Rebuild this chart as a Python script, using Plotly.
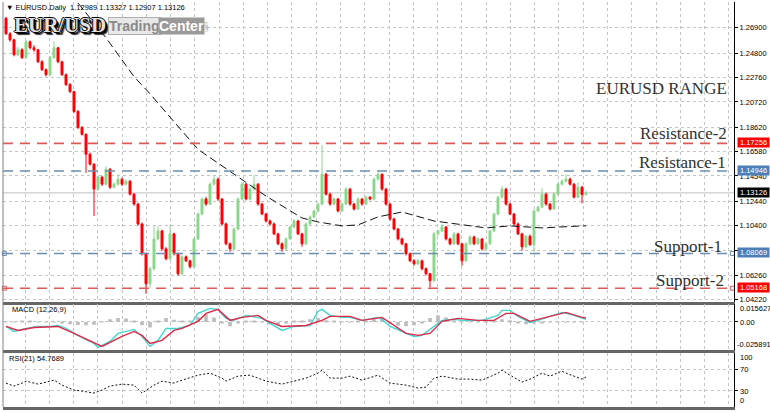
import plotly.graph_objects as go

# ---------------- data ----------------
open_ = [1.2770,1.2640,1.2590,1.2466,1.2507,1.2441,1.2574,1.2524,1.2507,1.2407,
         1.2341,1.2299,1.2441,1.2524,1.2407,1.2299,1.2216,1.2158,1.1992,1.1859,
         1.1801,1.1635,1.1552,1.1344,1.1444,1.1385,1.1510,1.1360,1.1385,1.1427,
         1.1385,1.1410,1.1302,1.1219,1.1053,1.0804,1.0554,1.0679,1.0928,1.0995,
         1.0845,1.0762,1.0970,1.0804,1.0637,1.0779,1.0745,1.0696,1.0928,1.1136,
         1.1261,1.1219,1.1385,1.1427,1.1261,1.1053,1.0887,1.0845,1.1011,1.1261,
         1.1385,1.1261,1.1344,1.1385,1.1219,1.1136,1.1078,1.1053,1.0970,1.0887,
         1.0845,1.0928,1.1028,1.1078,1.0970,1.0887,1.1053,1.1111,1.1161,1.1219,
         1.1468,1.1302,1.1219,1.1261,1.1161,1.1219,1.1344,1.1219,1.1178,1.1261,
         1.1219,1.1277,1.1261,1.1427,1.1468,1.1344,1.1219,1.1095,1.1011,1.0928,
         1.0887,1.0804,1.0745,1.0720,1.0745,1.0679,1.0637,1.0579,1.0970,1.0995,
         1.1028,1.0928,1.0887,1.0970,1.0887,1.0745,1.0887,1.0945,1.0887,1.0928,
         1.0845,1.0887,1.0995,1.1136,1.1277,1.1344,1.1219,1.1136,1.1053,1.0970,
         1.0862,1.0950,1.0880,1.1161,1.1194,1.1302,1.1219,1.1178,1.1302,1.1385,
         1.1410,1.1427,1.1385,1.1277,1.1360,1.12989]
high_ = [1.2782,1.2655,1.2600,1.2530,1.2520,1.2590,1.2585,1.2545,1.2515,1.2420,
         1.2352,1.2455,1.2578,1.2530,1.2415,1.2310,1.2230,1.2165,1.2005,1.1870,
         1.1810,1.1650,1.1560,1.1460,1.1455,1.1535,1.1520,1.1400,1.1468,1.1440,
         1.1425,1.1420,1.1310,1.1230,1.1065,1.0815,1.0695,1.1037,1.1037,1.1005,
         1.0860,1.1037,1.0980,1.0815,1.0790,1.0790,1.0755,1.0940,1.1150,1.1275,
         1.1280,1.1400,1.1452,1.1440,1.1270,1.1065,1.0900,1.1025,1.1275,1.1402,
         1.1395,1.1358,1.1461,1.1395,1.1230,1.1145,1.1090,1.1065,1.0980,1.0900,
         1.0940,1.1040,1.1095,1.1088,1.0980,1.1065,1.1125,1.1175,1.1230,1.1714,
         1.1480,1.1315,1.1275,1.1270,1.1230,1.1360,1.1355,1.1230,1.1275,1.1270,
         1.1290,1.1285,1.1440,1.1485,1.1475,1.1355,1.1230,1.1105,1.1020,1.0940,
         1.0895,1.0815,1.0760,1.0760,1.0755,1.0690,1.0645,1.0985,1.1005,1.1053,
         1.1035,1.0940,1.0985,1.0980,1.0895,1.0900,1.0958,1.0955,1.0940,1.0935,
         1.0900,1.1005,1.1150,1.1290,1.1369,1.1355,1.1230,1.1145,1.1065,1.0980,
         1.0960,1.0965,1.1175,1.1205,1.1350,1.1315,1.1230,1.1315,1.1398,1.1425,
         1.1468,1.1440,1.1395,1.1402,1.1372,1.13327]
low_ = [1.2632,1.2575,1.2452,1.2455,1.2430,1.2435,1.2510,1.2490,1.2395,1.2330,
        1.2285,1.2290,1.2430,1.2395,1.2288,1.2205,1.2145,1.1980,1.1845,1.1790,
        1.1480,1.1540,1.1120,1.1330,1.1370,1.1375,1.1345,1.1350,1.1375,1.1370,
        1.1375,1.1290,1.1205,1.1040,1.0790,1.0471,1.0520,1.0665,1.0915,1.0830,
        1.0750,1.0750,1.0790,1.0621,1.0625,1.0735,1.0680,1.0685,1.0920,1.1125,
        1.1205,1.1210,1.1375,1.1245,1.1040,1.0875,1.0820,1.0835,1.1000,1.1250,
        1.1250,1.1250,1.1335,1.1205,1.1125,1.1065,1.1040,1.0960,1.0875,1.0820,
        1.0835,1.0920,1.1015,1.0960,1.0862,1.0878,1.1045,1.1100,1.1150,1.1210,
        1.1290,1.1205,1.1210,1.1150,1.1150,1.1210,1.1205,1.1165,1.1170,1.1205,
        1.1210,1.1250,1.1250,1.1415,1.1330,1.1205,1.1080,1.1000,1.0915,1.0875,
        1.0790,1.0735,1.0705,1.0710,1.0665,1.0625,1.0524,1.0570,1.0955,1.0985,
        1.0915,1.0875,1.0878,1.0875,1.0704,1.0735,1.0878,1.0875,1.0878,1.0830,
        1.0835,1.0878,1.0985,1.1125,1.1265,1.1205,1.1125,1.1040,1.0960,1.0830,
        1.0850,1.0870,1.0820,1.1150,1.1185,1.1205,1.1165,1.1170,1.1290,1.1375,
        1.1400,1.1375,1.1265,1.1268,1.1225,1.12907]
close_ = [1.2640,1.2590,1.2466,1.2507,1.2441,1.2574,1.2524,1.2507,1.2407,1.2341,
          1.2299,1.2441,1.2524,1.2407,1.2299,1.2216,1.2158,1.1992,1.1859,1.1801,
          1.1635,1.1552,1.1344,1.1444,1.1385,1.1510,1.1360,1.1385,1.1427,1.1385,
          1.1410,1.1302,1.1219,1.1053,1.0804,1.0554,1.0679,1.0928,1.0995,1.0845,
          1.0762,1.0970,1.0804,1.0637,1.0779,1.0745,1.0696,1.0928,1.1136,1.1261,
          1.1219,1.1385,1.1427,1.1261,1.1053,1.0887,1.0845,1.1011,1.1261,1.1385,
          1.1261,1.1344,1.1385,1.1219,1.1136,1.1078,1.1053,1.0970,1.0887,1.0845,
          1.0928,1.1028,1.1078,1.0970,1.0887,1.1053,1.1111,1.1161,1.1219,1.1468,
          1.1302,1.1219,1.1261,1.1161,1.1219,1.1344,1.1219,1.1178,1.1261,1.1219,
          1.1277,1.1261,1.1427,1.1468,1.1344,1.1219,1.1095,1.1011,1.0928,1.0887,
          1.0804,1.0745,1.0720,1.0745,1.0679,1.0637,1.0579,1.0970,1.0995,1.1028,
          1.0928,1.0887,1.0970,1.0887,1.0745,1.0887,1.0945,1.0887,1.0928,1.0845,
          1.0887,1.0995,1.1136,1.1277,1.1344,1.1219,1.1136,1.1053,1.0970,1.0862,
          1.0950,1.0880,1.1161,1.1194,1.1302,1.1219,1.1178,1.1302,1.1385,1.1410,
          1.1427,1.1385,1.1277,1.1360,1.1299,1.13126]
bars = list(range(len(close_)))

# dashed moving average (bar index, price)
ma_x = [18,25,32,36,40,48,57,65,74,78,84,88,93,99,107,115,120,126,134,144,145]
ma_y = [1.2898,1.2607,1.2283,1.2140,1.1984,1.1676,1.1469,1.1286,1.1103,1.1070,
        1.1037,1.1045,1.1112,1.1153,1.1078,1.1045,1.1020,1.1037,1.1020,1.1037,1.1037]

# MACD (12,26,9)
macd_x = [0,2,5,8,11,13,15,18,22,23,26,28,32,34,36,38,40,43,46,48,51,53,55,57,60,64,66,69,72,76,
          78,79,81,84,86,89,93,94,96,99,102,104,107,109,112,114,119,123,124,126,128,131,133,136,139,142,144,145]
macd_main = [-0.0041,-0.0086,-0.0059,-0.0041,-0.0041,-0.0032,-0.0059,-0.0122,-0.0194,-0.0230,
             -0.0176,-0.0104,-0.0068,-0.0131,-0.0221,-0.0167,-0.0059,-0.0059,-0.0032,0.0077,
             0.0122,0.0113,0.0032,0.0014,0.0059,0.0032,-0.0014,-0.0077,-0.0041,-0.0032,
             0.0095,0.0113,0.0059,0.0041,0.0041,0.0014,0.0041,0.0023,-0.0041,-0.0086,
             -0.0131,-0.0122,-0.0041,0.0014,0.0023,0.0014,0.0014,0.0059,0.0104,0.0104,
             0.0050,-0.0005,0.0014,0.0050,0.0086,0.0059,0.0032,0.0023]
signal_x = [0,3,7,13,17,24,29,32,34,36,39,42,44,48,50,53,56,59,63,65,69,75,79,81,86,89,94,97,100,103,
            106,109,113,118,122,125,127,131,134,140,144,145]
signal_y = [-0.0041,-0.0077,-0.0050,-0.0041,-0.0104,-0.0221,-0.0131,-0.0086,-0.0122,-0.0194,
            -0.0167,-0.0077,-0.0059,0.0005,0.0077,0.0113,0.0014,0.0041,0.0059,0.0014,
            -0.0041,-0.0032,0.0014,0.0050,0.0050,0.0014,0.0041,-0.0032,-0.0104,-0.0122,
            -0.0104,0.0005,0.0032,0.0014,0.0014,0.0077,0.0077,0.0005,0.0032,0.0086,
            0.0041,0.0036]
hist_x = list(range(0, 146, 2))
hist_y = [0.0003,-0.0005,0.0005,0.0004,0.0002,0.0001,0.0003,-0.0010,-0.0020,-0.0028,
          -0.0030,-0.0025,-0.0005,0.0025,0.0035,0.0030,0.0010,-0.0030,-0.0050,0.0010,
          0.0035,0.0020,0.0005,0.0010,0.0045,0.0070,0.0040,-0.0015,-0.0040,-0.0010,
          0.0010,0.0008,-0.0005,-0.0020,-0.0030,-0.0015,0.0005,0.0010,0.0025,0.0035,
          0.0015,0.0005,-0.0005,-0.0005,0.0005,0.0010,0.0040,0.0030,-0.0015,-0.0035,
          -0.0040,-0.0030,-0.0010,0.0035,0.0060,0.0040,0.0010,0.0003,0.0002,0.0002,
          0.0008,0.0015,0.0025,0.0015,-0.0015,-0.0020,-0.0010,-0.0008,-0.0003,0.0002,
          0.0001,-0.0004,-0.0005]

# RSI(21)
rsi_x = [0,2,4,5,8,10,12,14,17,19,22,24,26,29,32,34,37,39,42,44,48,51,54,55,58,61,65,69,72,75,
         78,79,81,84,86,89,93,96,100,103,105,107,109,113,116,119,123,124,126,129,131,134,136,139,140,142,144,145]
rsi_y = [43.3,37.6,43.3,47.1,41.4,45.2,49.0,39.5,30.0,28.1,24.3,30.0,37.6,41.4,39.5,24.3,39.5,47.1,43.3,49.0,
         58.6,62.4,52.9,47.1,56.7,58.6,47.1,41.4,47.1,52.9,62.4,68.1,52.9,52.9,56.7,49.0,58.6,43.3,39.5,33.8,
         35.7,52.9,56.7,51.0,51.0,49.0,62.4,68.1,58.6,45.2,51.0,62.4,56.7,66.2,62.4,56.7,51.0,54.77]

# price axis ticks
price_ticks = [1.26900,1.24800,1.22760,1.20720,1.18620,1.16580,1.14540,1.12440,1.10400,1.08300,1.06260,1.04220]
price_ticktext = ["1.26900","1.24800","1.22760","1.20720","1.18620","1.16580","1.14540","1.12440","1.10400","","1.06260","1.04220"]

# levels
level_names = ["Resistance-2", "Resistance-1", "Support-1", "Support-2"]
level_values = [1.17256, 1.14946, 1.08069, 1.05168]
level_colors = ["#dc5a5a", "#6c8db0", "#6c8db0", "#dc5a5a"]
level_box_colors = ["#ff0000", "#4f7fb8", "#4f7fb8", "#ff0000"]
bid_price = 1.13126

# ---------------- figure ----------------
FONT = "Liberation Sans"
fig = go.Figure()

fig.add_trace(go.Candlestick(
    x=bars, open=open_, high=high_, low=low_, close=close_,
    increasing=dict(line=dict(color="#8ad88a", width=1), fillcolor="#8ad88a"),
    decreasing=dict(line=dict(color="#ff0000", width=1), fillcolor="#ff0000"),
    whiskerwidth=0, xaxis="x", yaxis="y", showlegend=False))

fig.add_trace(go.Scatter(x=ma_x, y=ma_y, mode="lines",
                         line=dict(color="#111111", width=1, dash="8px,4px"),
                         xaxis="x", yaxis="y", showlegend=False))

# support markers at line ends
for v, c in zip(level_values[2:], level_colors[2:]):
    fig.add_trace(go.Scatter(x=[-0.4, 181.6], y=[v, v], mode="markers",
                             marker=dict(symbol="square-open", size=4, color=c, line=dict(width=1, color=c)),
                             xaxis="x", yaxis="y", showlegend=False, cliponaxis=False))

fig.add_trace(go.Bar(x=hist_x, y=hist_y, marker=dict(color="#bcbcbc", line=dict(width=0)),
                     width=0.9, xaxis="x2", yaxis="y2", showlegend=False))
fig.add_trace(go.Scatter(x=macd_x, y=macd_main, mode="lines", line=dict(color="#3fd8d0", width=1.4),
                         xaxis="x2", yaxis="y2", showlegend=False))
fig.add_trace(go.Scatter(x=signal_x, y=signal_y, mode="lines", line=dict(color="#e02848", width=1.4),
                         xaxis="x2", yaxis="y2", showlegend=False))

fig.add_trace(go.Scatter(x=rsi_x, y=rsi_y, mode="lines", line=dict(color="#111111", width=1, dash="2px,2px"),
                         xaxis="x3", yaxis="y3", showlegend=False))

XR = [-0.75, 182]
xcommon = dict(range=XR, showticklabels=False, ticks="", showgrid=True, gridcolor="#c4c4c4",
               griddash="dot", gridwidth=1, tick0=4.75, dtick=6.0675, zeroline=False,
               showline=True, linecolor="#666666", linewidth=3)
ycommon = dict(side="right", showline=True, linecolor="#000000", linewidth=1, ticks="outside",
               ticklen=3, tickcolor="#000000", showgrid=True, gridcolor="#c4c4c4", griddash="dot",
               zeroline=False, tickfont=dict(family=FONT, size=7.5, color="#000000"))

fig.update_layout(
    width=770, height=412, margin=dict(l=3, r=36, t=2, b=3),
    paper_bgcolor="white", plot_bgcolor="white", showlegend=False,
    font=dict(family=FONT, size=8, color="#000000"),
    xaxis=dict(anchor="y", rangeslider=dict(visible=False), **xcommon),
    xaxis2=dict(anchor="y2", matches="x", **xcommon),
    xaxis3=dict(anchor="y3", matches="x", **xcommon),
    yaxis=dict(domain=[0.2604, 1.0], range=[1.04054, 1.2906], tickvals=price_ticks,
               ticktext=price_ticktext, **ycommon),
    yaxis2=dict(domain=[0.1400, 0.2531], range=[-0.02565, 0.01575], tickvals=[0.0],
                showticklabels=False, **ycommon),
    yaxis3=dict(domain=[0.0, 0.1327], range=[-2.38, 100.48], tickvals=[30, 70],
                showticklabels=False, **ycommon),
)

shapes = []
# left border
shapes.append(dict(type="line", xref="paper", yref="paper", x0=0, x1=0, y0=0, y1=1,
                   line=dict(color="#808080", width=1)))
# bid line
shapes.append(dict(type="line", xref="paper", yref="y", x0=0, x1=1, y0=bid_price, y1=bid_price,
                   line=dict(color="#c0c0c0", width=1), layer="below"))
for v, c in zip(level_values, level_colors):
    shapes.append(dict(type="line", xref="paper", yref="y", x0=0, x1=1, y0=v, y1=v,
                       line=dict(color=c, width=1.6, dash="10px,7px")))
fig.update_layout(shapes=shapes)

ann = []
def px(xp):
    return (xp - 3) / 731.0
def py(yp):
    return (409 - yp) / 407.0

ann.append(dict(text="▼ EURUSD.Daily&nbsp; 1.12989 1.13327 1.12907 1.13126", xref="paper", yref="paper",
                x=px(4), y=py(8), xanchor="left", yanchor="middle", showarrow=False,
                font=dict(family=FONT, size=7.5, color="#000000")))
ann.append(dict(text="<b>EUR/USD</b>", xref="paper", yref="paper", x=px(60), y=py(25), xanchor="center",
                yanchor="middle", showarrow=False,
                font=dict(family="Liberation Serif", size=21, color="#e0e0e0",
                          shadow="1px 0 0 #000, -1px 0 0 #000, 0 1px 0 #000, 0 -1px 0 #000, 2px 2px 0 #000, 3px 3px 1px #333")))
ann.append(dict(text="<b>Trading</b>", xref="paper", yref="paper", x=px(134), y=py(26.5), xanchor="center",
                yanchor="middle", showarrow=False, bgcolor="#e8e8e8", bordercolor="#b0b0b0", borderwidth=1,
                borderpad=0, font=dict(family="Liberation Sans Narrow, Liberation Sans", size=14, color="#8a8a8a")))
ann.append(dict(text="<b>Center</b>", xref="paper", yref="paper", x=px(181), y=py(26.5), xanchor="center",
                yanchor="middle", showarrow=False, bgcolor="#9a9a9a", borderpad=0,
                font=dict(family="Liberation Sans Narrow, Liberation Sans", size=14, color="#ffffff")))
ann.append(dict(text=".com", xref="paper", yref="paper", x=px(207), y=py(26), xanchor="center",
                yanchor="middle", showarrow=False, textangle=90,
                font=dict(family=FONT, size=5, color="#8a8a8a")))

serif = dict(family="Liberation Serif", size=17, color="#303030")
ann.append(dict(text="EURUSD RANGE", xref="paper", yref="paper", x=px(729), y=py(89),
                xanchor="right", yanchor="middle", showarrow=False, font=serif))
label_px = [(729, 134.5), (728, 163.5), (724, 247.5), (726, 281.5)]
for name, (lx, ly) in zip(level_names, label_px):
    ann.append(dict(text=name, xref="paper", yref="paper", x=px(lx), y=py(ly),
                    xanchor="right", yanchor="middle", showarrow=False, font=serif))

# price boxes on the right axis
for v, bc in zip(level_values, level_box_colors):
    ann.append(dict(text=f"{v:.5f}", xref="paper", yref="y", x=1, y=v, xanchor="left", yanchor="middle",
                    xshift=3, yshift=1, showarrow=False, bgcolor=bc, width=31, height=9, borderpad=0,
                    font=dict(family=FONT, size=7.5, color="#ffffff")))
ann.append(dict(text=f"{bid_price:.5f}", xref="paper", yref="y", x=1, y=bid_price, xanchor="left",
                yanchor="middle", xshift=3, showarrow=False, bgcolor="#000000", width=31, height=9,
                borderpad=0, font=dict(family=FONT, size=7.5, color="#ffffff")))

# indicator titles
ann.append(dict(text="MACD (12,26,9)", xref="paper", yref="paper", x=px(10), y=py(311),
                xanchor="left", yanchor="middle", showarrow=False, font=dict(family=FONT, size=7.5)))
ann.append(dict(text="RSI(21) 54.7689", xref="paper", yref="paper", x=px(7), y=py(360.5),
                xanchor="left", yanchor="middle", showarrow=False, font=dict(family=FONT, size=7.5)))

# indicator scale labels
ind_labels = [("0.015627", 310, 4), ("0.00", 324, 4), ("-0.025891", 346, 1),
              ("100", 359, 4), ("70", 371, 4), ("30", 393, 4), ("0", 402, 4)]
for t, ly, xs in ind_labels:
    ann.append(dict(text=t, xref="paper", yref="paper", x=1, y=py(ly), xanchor="left", yanchor="middle",
                    xshift=xs, showarrow=False, font=dict(family=FONT, size=7.5, color="#000000")))

fig.update_layout(annotations=ann)
fig.write_html("out.html")
